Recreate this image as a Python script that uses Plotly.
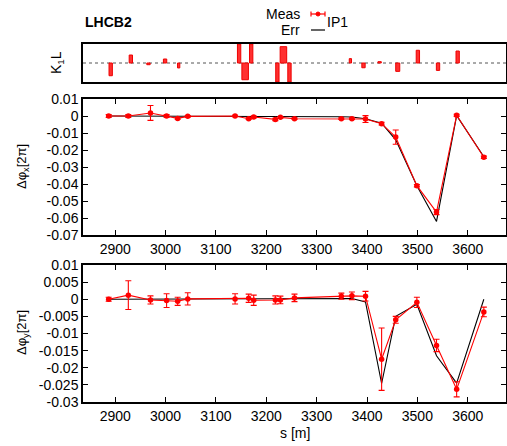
import plotly.graph_objects as go

# ---- data ----
s_bpm = [2887, 2926, 2970, 3002, 3024, 3044, 3138, 3165, 3175, 3218, 3228, 3256,
         3349, 3370, 3397, 3429, 3457, 3499, 3538, 3578, 3632]

dphix_meas = [0.0, 0.0, 0.0018, 0.0, -0.0014, -0.0002, 0.0, -0.0016, -0.0006, -0.0020,
              -0.0008, -0.0016, -0.0016, -0.0016, -0.0018, -0.0045, -0.0124, -0.0410,
              -0.0565, 0.0004, -0.0243]
dphix_err = [0.0008, 0.0008, 0.0044, 0.0008, 0.0005, 0.0005, 0.0004, 0.0005, 0.0005, 0.0007,
             0.0005, 0.0005, 0.0005, 0.0005, 0.0020, 0.0008, 0.0042, 0.0007, 0.0015, 0.0006, 0.0007]
dphix_model = [0.0, 0.0, 0.0, 0.0, 0.0, 0.0, 0.0, 0.0, 0.0, 0.0, 0.0, 0.0,
               -0.0004, -0.0006, -0.0016, -0.0042, -0.0140, -0.0410, -0.0620, 0.0002, -0.0240]

dphiy_meas = [0.0, 0.0012, -0.0002, -0.0004, -0.0006, 0.0001, 0.0001, 0.0003, -0.0003, -0.0002,
              -0.0002, 0.0004, 0.0009, 0.0010, 0.0009, -0.0175, -0.0060, -0.0009, -0.0135,
              -0.0263, -0.0037]
dphiy_err = [0.0006, 0.0042, 0.0012, 0.0020, 0.0012, 0.0018, 0.0015, 0.0012, 0.0015, 0.0012,
             0.0011, 0.0011, 0.0009, 0.0011, 0.0014, 0.0091, 0.0010, 0.0015, 0.0018, 0.0022, 0.0014]
dphiy_model = [0.0, 0.0, 0.0, 0.0, 0.0, 0.0, 0.0, 0.0, 0.0, 0.0, 0.0, 0.0,
               0.0002, 0.0002, -0.0008, -0.0246, -0.0050, -0.0015, -0.0165, -0.0245, 0.0]

s_quad = [2891, 2931, 2966, 2999, 3026, 3146, 3158, 3170, 3222, 3234, 3246, 3367, 3393,
          3425, 3461, 3501, 3541, 3580]
k1l = [-0.67, 0.42, -0.09, 0.21, -0.26, 1.0, -0.88, 1.0, -1.0, 0.86, -1.0, 0.23, -0.25,
       0.07, -0.44, 0.67, -0.39, 0.63]
quad_len = [6.6, 6.6, 6.6, 6.6, 4.5, 6.6, 13, 6.6, 6.6, 13, 6.6, 4.5, 6.6, 6.6, 8, 6.6, 6.6, 6.6]

x_ticks = [2900, 3000, 3100, 3200, 3300, 3400, 3500, 3600]
yx_ticks = [0.01, 0, -0.01, -0.02, -0.03, -0.04, -0.05, -0.06, -0.07]
yx_labels = ["0.01", "0", "-0.01", "-0.02", "-0.03", "-0.04", "-0.05", "-0.06", "-0.07"]
yy_ticks = [0.01, 0.005, 0, -0.005, -0.01, -0.015, -0.02, -0.025, -0.03]
yy_labels = ["0.01", "0.005", "0", "-0.005", "-0.01", "-0.015", "-0.02", "-0.025", "-0.03"]

W, H = 507, 446
FONT = "Liberation Sans, Arial, sans-serif"
RED = "#ff0000"

def px(x):
    return x / W

def py(y):
    return 1 - y / H

fig = go.Figure()

# K1L bars
fig.add_trace(go.Bar(x=s_quad, y=k1l, width=quad_len, xaxis="x", yaxis="y",
                     marker=dict(color="#ff3030", line=dict(color="#ee0000", width=1)),
                     showlegend=False))

# horizontal phase
fig.add_trace(go.Scatter(x=s_bpm, y=dphix_model, mode="lines", xaxis="x2", yaxis="y2",
                         line=dict(color="black", width=1.1), showlegend=False))
fig.add_trace(go.Scatter(x=s_bpm, y=dphix_meas, mode="lines+markers", xaxis="x2", yaxis="y2",
                         line=dict(color=RED, width=1.1), marker=dict(color=RED, size=5.5),
                         error_y=dict(type="data", array=dphix_err, color=RED, thickness=1.1, width=3),
                         showlegend=False))
# vertical phase
fig.add_trace(go.Scatter(x=s_bpm, y=dphiy_model, mode="lines", xaxis="x3", yaxis="y3",
                         line=dict(color="black", width=1.1), showlegend=False))
fig.add_trace(go.Scatter(x=s_bpm, y=dphiy_meas, mode="lines+markers", xaxis="x3", yaxis="y3",
                         line=dict(color=RED, width=1.1), marker=dict(color=RED, size=5.5),
                         error_y=dict(type="data", array=dphiy_err, color=RED, thickness=1.1, width=3),
                         showlegend=False))

xdom = [px(83), px(506)]
xr = [2836, 3676]
common_x = dict(range=xr, domain=xdom, showline=True, linecolor="black", linewidth=1.5,
                mirror="ticks", ticks="inside", ticklen=5, tickcolor="black", showgrid=False,
                zeroline=False, tickvals=x_ticks, automargin=False,
                tickfont=dict(size=14, family=FONT, color="black"))
common_y = dict(showline=True, linecolor="black", linewidth=1.5, mirror="ticks", ticks="inside",
                ticklen=5, tickcolor="black", showgrid=False, zeroline=False, automargin=False,
                tickfont=dict(size=14, family=FONT, color="black"))

fig.update_layout(
    width=W, height=H, margin=dict(l=0, r=0, t=0, b=0, autoexpand=False),
    paper_bgcolor="white", plot_bgcolor="white", barmode="overlay",
    font=dict(family=FONT, size=14, color="black"),
    xaxis=dict(common_x, anchor="y", showticklabels=False, ticks=""),
    yaxis=dict(common_y, domain=[py(82), py(44)], range=[-1.0, 1.0], anchor="x",
               showticklabels=False, ticks="", mirror=True),
    xaxis2=dict(common_x, anchor="y2"),
    yaxis2=dict(common_y, domain=[py(235), py(99)], range=[-0.07, 0.01], anchor="x2",
                tickvals=yx_ticks, ticktext=yx_labels),
    xaxis3=dict(common_x, anchor="y3"),
    yaxis3=dict(common_y, domain=[py(402), py(265)], range=[-0.03, 0.01], anchor="x3",
                tickvals=yy_ticks, ticktext=yy_labels),
)

# dotted zero line in K1L panel
fig.add_shape(type="line", xref="x domain", yref="y", x0=0, x1=1, y0=0, y1=0,
              line=dict(color="#555555", width=1, dash="dot"), layer="below")

def label(text, x, y, xanchor="center", angle=0, size=14):
    fig.add_annotation(text=text, xref="paper", yref="paper", x=px(x), y=py(y),
                       xanchor=xanchor, yanchor="middle", textangle=angle,
                       showarrow=False, font=dict(size=size))

# titles and labels
label("<b>LHCB2</b>", 83, 22, xanchor="left")
label("K<sub>1</sub>L", 57, 63, angle=-90)
label("Δφ<sub>x</sub>[2π]", 22, 167, angle=-90, size=13)
label("Δφ<sub>y</sub>[2π]", 22, 333, angle=-90, size=13)
label("s [m]", 295, 433)

# legend (manual, gnuplot style)
label("Meas", 302, 14, xanchor="right")
label("Err", 302, 30, xanchor="right")
label("IP1", 325, 22, xanchor="left")
fig.add_shape(type="line", xref="paper", yref="paper", x0=px(311), x1=px(325), y0=py(14), y1=py(14),
              line=dict(color=RED, width=1.2))
fig.add_shape(type="line", xref="paper", yref="paper", x0=px(311), x1=px(311), y0=py(11.5), y1=py(16.5),
              line=dict(color=RED, width=1.2))
fig.add_shape(type="line", xref="paper", yref="paper", x0=px(325), x1=px(325), y0=py(11.5), y1=py(16.5),
              line=dict(color=RED, width=1.2))
fig.add_shape(type="circle", xref="paper", yref="paper", x0=px(316), x1=px(320), y0=py(16), y1=py(12),
              fillcolor=RED, line=dict(color=RED, width=1))
fig.add_shape(type="line", xref="paper", yref="paper", x0=px(311), x1=px(325), y0=py(30), y1=py(30),
              line=dict(color="black", width=1.2))

fig.write_html("out.html", config={"displayModeBar": False},
               post_script="document.body.style.margin='0';document.body.style.overflow='hidden';")
